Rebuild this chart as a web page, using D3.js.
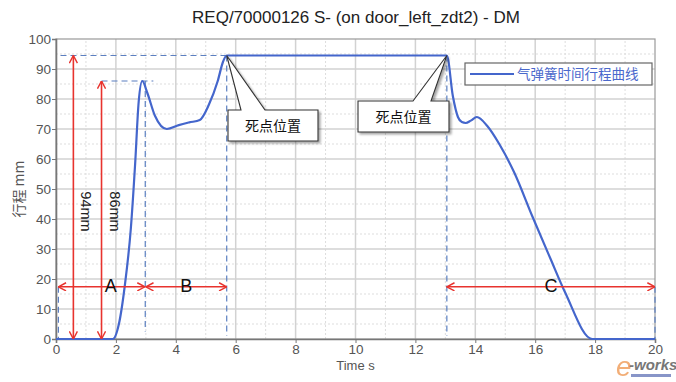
<!DOCTYPE html>
<html>
<head>
<meta charset="utf-8">
<script src="https://cdn.jsdelivr.net/npm/d3@7"></script>
<style>
  body { margin: 0; background: #fff; }
  text { font-family: "Liberation Sans", Arial, sans-serif; }
  .cjk { font-family: "Noto Sans CJK SC", sans-serif; }
</style>
</head>
<body>
<script>
// curve data
let timeS = [0, 1.9, 2.1, 2.3, 2.5, 2.64, 2.76, 2.88, 3.05, 3.3, 3.7, 4.1, 4.45, 4.8, 5.1, 5.4, 5.58, 5.7,
             9, 13.05, 13.25, 13.42, 13.55, 13.68, 13.85, 14.05, 14.4, 14.8, 15.3, 15.9, 16.5, 17.0, 17.9, 20];
let strokeMm = [0, 0, 5, 18, 37, 58, 79, 86, 82, 74.5, 70, 71.3, 72.2, 73, 78, 86, 92.5, 94.5,
                94.5, 94.5, 81, 74, 72.3, 72, 72.8, 74, 71, 65, 55.5, 41, 27, 15.5, 0, 0];

let xTicks = [0, 2, 4, 6, 8, 10, 12, 14, 16, 18, 20];
let yTicks = [0, 10, 20, 30, 40, 50, 60, 70, 80, 90, 100];

// annotations in data units
let stopTimes = [5.7, 13.05];          // 死点位置
let calloutLabel = "死点位置";
let heightMarks = [{t: 0.58, v: 94.5, label: "94mm"}, {t: 1.52, v: 86, label: "86mm"}];
let phases = [{name: "A", from: 0.08, to: 2.97}, {name: "B", from: 3.0, to: 5.7}, {name: "C", from: 13.05, to: 20}];
let phaseLevel = 17.4;

let w = 676, h = 382;
let margin = {left: 56, right: 21, top: 39, bottom: 43};
let pw = w - margin.left - margin.right;
let ph = h - margin.top - margin.bottom;

let svg = d3.select("body").append("svg").attr("width", w).attr("height", h);

let x = d3.scaleLinear().domain([0, 20]).range([margin.left, margin.left + pw]);
let y = d3.scaleLinear().domain([0, 100]).range([margin.top + ph, margin.top]);

let red = "#e8332e", blue = "#4466cc", dash = "#5b7fc0";

// markers
let defs = svg.append("defs");
defs.append("marker").attr("id", "arr")
    .attr("viewBox", "0 0 10 10").attr("refX", 9.5).attr("refY", 5)
    .attr("markerWidth", 9).attr("markerHeight", 9).attr("markerUnits", "userSpaceOnUse")
    .attr("orient", "auto-start-reverse")
    .append("path").attr("d", "M1,0.5 L9.5,5 L1,9.5").attr("fill", "none")
    .attr("stroke", red).attr("stroke-width", 1.6);
let sh = defs.append("filter").attr("id", "shadow").attr("x", "-10%").attr("y", "-10%").attr("width", "130%").attr("height", "140%");
sh.append("feDropShadow").attr("dx", 2).attr("dy", 2).attr("stdDeviation", 1.2).attr("flood-color", "#000").attr("flood-opacity", 0.35);

// grid
let g = svg.append("g");
g.selectAll(".vmin").data(d3.range(1, 20, 2)).enter().append("line")
    .attr("x1", d => x(d)).attr("x2", d => x(d)).attr("y1", y(0)).attr("y2", y(100))
    .attr("stroke", "#ddd").attr("stroke-dasharray", "2,2");
g.selectAll(".hmin").data(d3.range(5, 100, 10)).enter().append("line")
    .attr("x1", x(0)).attr("x2", x(20)).attr("y1", d => y(d)).attr("y2", d => y(d))
    .attr("stroke", "#ddd").attr("stroke-dasharray", "2,2");
g.selectAll(".vmaj").data(xTicks.slice(1, -1)).enter().append("line")
    .attr("x1", d => x(d)).attr("x2", d => x(d)).attr("y1", y(0)).attr("y2", y(100))
    .attr("stroke", "#d2d2d2").attr("stroke-width", 1.5);
g.selectAll(".hmaj").data(yTicks.slice(1, -1)).enter().append("line")
    .attr("x1", x(0)).attr("x2", x(20)).attr("y1", d => y(d)).attr("y2", d => y(d))
    .attr("stroke", "#d2d2d2").attr("stroke-width", 1.5);

svg.append("rect").attr("x", x(0)).attr("y", y(100)).attr("width", pw).attr("height", ph)
    .attr("fill", "none").attr("stroke", "#999").attr("stroke-width", 1.2);

// axes
let xAxis = svg.append("g").attr("transform", "translate(0," + y(0) + ")")
    .call(d3.axisBottom(x).tickValues(xTicks).tickSize(4).tickPadding(1));
let yAxis = svg.append("g").attr("transform", "translate(" + x(0) + ",0)")
    .call(d3.axisLeft(y).tickValues(yTicks).tickSize(4).tickPadding(1));
[xAxis, yAxis].forEach(a => {
    a.select(".domain").attr("stroke", "#777").attr("stroke-width", 1.6);
    a.selectAll(".tick line").attr("stroke", "#777");
    a.selectAll(".tick text").attr("fill", "#555").attr("font-size", 13.5)
        .attr("font-family", "Liberation Sans, Arial, sans-serif");
});

// title & axis labels
svg.append("text").attr("x", 356).attr("y", 23).attr("text-anchor", "middle")
    .attr("font-size", 17).attr("fill", "#222").text("REQ/70000126 S- (on door_left_zdt2) - DM");
svg.append("text").attr("x", x(10)).attr("y", 370).attr("text-anchor", "middle")
    .attr("font-size", 13).attr("fill", "#555").text("Time s");
svg.append("text").attr("class", "cjk").attr("transform", "translate(24," + y(50) + ") rotate(-90)")
    .attr("text-anchor", "middle").attr("font-size", 14).attr("fill", "#555").text("行程 mm");

// dashed guide lines
let guides = [
    {x1: 0.15, y1: 94.5, x2: 5.7, y2: 94.5},
    {x1: 1.52, y1: 86, x2: 3.25, y2: 86},
    {x1: 2.98, y1: 86, x2: 2.98, y2: 2.5},
    {x1: 5.7, y1: 94.5, x2: 5.7, y2: 1},
    {x1: 13.05, y1: 94.5, x2: 13.05, y2: 1},
    {x1: 0.08, y1: phaseLevel, x2: 0.08, y2: 0},
    {x1: 20, y1: phaseLevel, x2: 20, y2: 0}
];
svg.selectAll(".guide").data(guides).enter().append("line")
    .attr("x1", d => x(d.x1)).attr("y1", d => y(d.y1)).attr("x2", d => x(d.x2)).attr("y2", d => y(d.y2))
    .attr("stroke", dash).attr("stroke-width", 1.2).attr("stroke-dasharray", "6,4");

// curve
let pts = timeS.map((t, i) => [t, strokeMm[i]]);
svg.append("path").datum(pts)
    .attr("d", d3.line().x(d => x(d[0])).y(d => y(d[1])).curve(d3.curveMonotoneX))
    .attr("fill", "none").attr("stroke", blue).attr("stroke-width", 2.2);

// height arrows
svg.selectAll(".hm").data(heightMarks).enter().append("line")
    .attr("x1", d => x(d.t)).attr("x2", d => x(d.t)).attr("y1", y(0)).attr("y2", d => y(d.v))
    .attr("stroke", red).attr("stroke-width", 1.6)
    .attr("marker-start", "url(#arr)").attr("marker-end", "url(#arr)");
svg.selectAll(".hml").data(heightMarks).enter().append("text")
    .attr("transform", d => "translate(" + (x(d.t) + 8) + "," + y(42.5) + ") rotate(90)")
    .attr("font-size", 14.5).attr("fill", "#222").attr("text-anchor", "middle").text(d => d.label);

// phase arrows
svg.selectAll(".ph").data(phases).enter().append("line")
    .attr("x1", d => x(d.from)).attr("x2", d => x(d.to)).attr("y1", y(phaseLevel)).attr("y2", y(phaseLevel))
    .attr("stroke", red).attr("stroke-width", 1.6)
    .attr("marker-start", "url(#arr)").attr("marker-end", "url(#arr)");
svg.selectAll(".phl").data(phases).enter().append("text")
    .attr("x", d => x((d.from + d.to) / 2) + (d.name === "A" ? 9 : 0))
    .attr("y", y(phaseLevel) + 5)
    .attr("text-anchor", "middle").attr("font-size", 18).attr("fill", "#111")
    .attr("font-family", "Liberation Serif, serif").text(d => d.name);

// callouts
let boxes = [
    {t: stopTimes[0], v: 94.5, bx: 228, by: 110, bw: 90, bh: 31, w1: 241, w2: 265},
    {t: stopTimes[1], v: 94.5, bx: 358, by: 101, bw: 91, bh: 31, w1: 413, w2: 431}
];
boxes.forEach(b => {
    let ax = x(b.t), ay = y(b.v);
    let p = "M" + b.bx + "," + b.by + " L" + b.w1 + "," + b.by + " L" + ax + "," + ay +
        " L" + b.w2 + "," + b.by + " L" + (b.bx + b.bw) + "," + b.by +
        " L" + (b.bx + b.bw) + "," + (b.by + b.bh) + " L" + b.bx + "," + (b.by + b.bh) + " Z";
    svg.append("path").attr("d", p).attr("fill", "#fff").attr("stroke", "#333")
        .attr("stroke-width", 1.1).attr("filter", "url(#shadow)");
    svg.append("text").attr("class", "cjk").attr("x", b.bx + b.bw / 2).attr("y", b.by + b.bh / 2 + 5)
        .attr("text-anchor", "middle").attr("font-size", 14).attr("fill", "#111").text(calloutLabel);
});

// legend
let lg = svg.append("g");
lg.append("rect").attr("x", 465).attr("y", 63).attr("width", 187).attr("height", 22)
    .attr("fill", "#fff").attr("stroke", "#666").attr("stroke-width", 1.2);
lg.append("line").attr("x1", 470).attr("x2", 514).attr("y1", 74).attr("y2", 74)
    .attr("stroke", blue).attr("stroke-width", 2);
lg.append("text").attr("class", "cjk").attr("x", 517).attr("y", 79).attr("font-size", 13.5)
    .attr("fill", "#4a68cc").text("气弹簧时间行程曲线");

// watermark
let wm = svg.append("g").attr("transform", "translate(616,370)");
wm.append("text").attr("x", 0).attr("y", 6).attr("font-size", 28).attr("font-style", "italic")
    .attr("fill", "#f0a060").attr("opacity", 0.85).attr("font-family", "Liberation Serif, serif").text("e");
wm.append("text").attr("x", 13).attr("y", 0).attr("font-size", 15).attr("font-style", "italic")
    .attr("font-weight", "bold").attr("fill", "#777").attr("font-family", "Liberation Serif, serif").text("-works");
wm.append("rect").attr("x", 15).attr("y", 4).attr("width", 40).attr("height", 3).attr("fill", "#8895c8");
</script>
</body>
</html>
